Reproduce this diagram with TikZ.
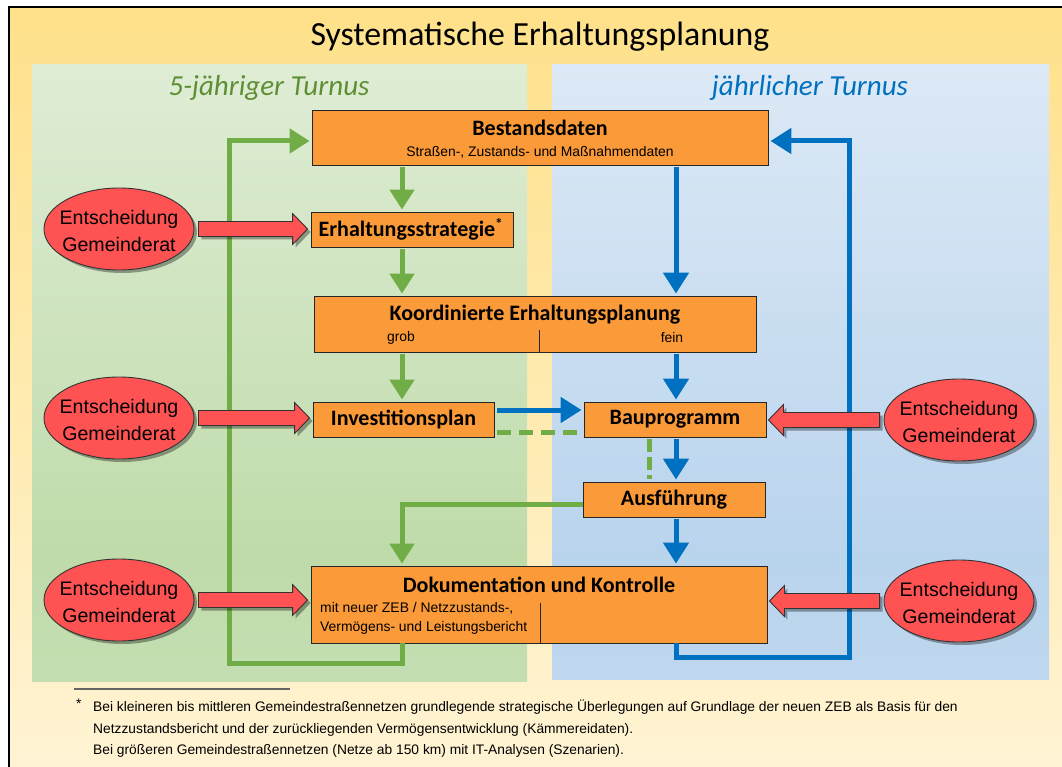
\documentclass[tikz,border=0pt]{standalone}
\usepackage{fontspec}
\setmainfont{Liberation Sans}
\newfontfamily\calfont{Carlito}
\usetikzlibrary{arrows.meta,shadows,calc,shapes.geometric}
\definecolor{frTop}{HTML}{FFE18A}
\definecolor{frBot}{HTML}{FFF4D6}
\definecolor{gpTop}{HTML}{F3F8F0}
\definecolor{gpMid}{HTML}{BFDBAA}
\definecolor{gpBot}{HTML}{D0E6C3}
\definecolor{bpTop}{HTML}{F3F6FB}
\definecolor{bpMid}{HTML}{B9D4ED}
\definecolor{bpBot}{HTML}{CCDFF1}
\definecolor{grn}{HTML}{70AD47}
\definecolor{blu}{HTML}{0070C0}
\definecolor{turnG}{HTML}{5E8F35}
\definecolor{orng}{HTML}{FB9A38}
\definecolor{redE}{HTML}{FF5353}
\pgfdeclareverticalshading{gpanel}{100bp}{color(0bp)=(gpBot); color(35bp)=(gpMid); color(100bp)=(gpTop)}
\pgfdeclareverticalshading{bpanel}{100bp}{color(0bp)=(bpBot); color(35bp)=(bpMid); color(100bp)=(bpTop)}
\newcommand\redblock[2]{\draw[redblk] let \p1=(#1), \p2=(#2), \n1={sign(\x2-\x1)} in
  (\x1,\y1+7.5pt) -- (\x2-\n1*15pt,\y1+7.5pt) -- (\x2-\n1*15pt,\y1+15.5pt) -- (\x2,\y1)
  -- (\x2-\n1*15pt,\y1-15.5pt) -- (\x2-\n1*15pt,\y1-7.5pt) -- (\x1,\y1-7.5pt) -- cycle;}
\begin{document}
\begin{tikzpicture}[x=1pt,y=-1pt,
  box/.style={draw=black!85, fill=orng, line width=0.9pt, inner sep=0pt},
  ttl/.style={font=\calfont\bfseries\fontsize{22}{26}\selectfont, inner sep=0pt},
  sub/.style={font=\fontsize{13.9}{16}\selectfont, inner sep=0pt},
  ell/.style={ellipse, draw=black!80, line width=0.9pt, fill=redE, minimum width=150pt, minimum height=82pt,
    inner sep=0pt,
    drop shadow={shadow xshift=3pt, shadow yshift=-3pt, opacity=0.35, fill=black}},
  elltxt/.style={inner sep=0pt, align=center, font=\fontsize{19.6}{27}\selectfont},
  redblk/.style={draw=black!80, line width=0.9pt, fill=redE,
    drop shadow={shadow xshift=3pt, shadow yshift=-3pt, opacity=0.35, fill=black}},
  garrow/.style={draw=grn, line width=5pt, -{Triangle[length=20pt,width=24pt]}},
  barrow/.style={draw=blu, line width=5pt, -{Triangle[length=21pt,width=25pt]}},
  gdash/.style={draw=grn, line width=5pt, dash pattern=on 14pt off 8pt},
  foot/.style={font=\fontsize{13.8}{16}\selectfont, inner sep=0pt, anchor=west}]
\useasboundingbox (0,0) rectangle (1062,767);
\begin{scope}
\clip (0,0) rectangle (1062,767);
\fill[white] (0,0) rectangle (1062,767);
\shade[top color=frTop, bottom color=frBot] (9,7) rectangle (1080,790);
\draw[line width=2pt] (9,7) rectangle (1080,790);
\end{scope}
\shade[shading=gpanel] (32,65) rectangle (527,681);
\shade[shading=bpanel] (552,65) rectangle (1049,679);
% titles
\node[font=\calfont\fontsize{33.8}{40}\selectfont, inner sep=0pt] (title) at (540,37) {Systematische Erhaltungsplanung};
\node[font=\calfont\itshape\fontsize{29}{34}\selectfont, text=turnG, inner sep=0pt] (tg) at (269,88) {5-jähriger Turnus};
\node[font=\calfont\itshape\fontsize{29}{34}\selectfont, text=blu, inner sep=0pt] (tb) at (810,88) {jährlicher Turnus};
% boxes
\node[box, minimum width=456pt, minimum height=55pt] (B1) at (540,137.5) {};
\node[ttl] (B1t) at (540,128) {Bestandsdaten};
\node[sub] (B1s) at (540,152) {Straßen-, Zustands- und Maßnahmendaten};
\node[box, minimum width=202pt, minimum height=35pt] (B2) at (412,229.5) {};
\node[ttl] (B2t) at (411,229.5) {Erhaltungsstrategie\textsuperscript{*}};
\node[box, minimum width=442pt, minimum height=56pt] (B3) at (535,324) {};
\node[ttl] (B3t) at (535,315) {Koordinierte Erhaltungsplanung};
\node[sub] (B3a) at (401,338) {grob};
\node[sub] (B3b) at (672,338) {fein};
\coordinate (d3) at (539,330);
\draw[line width=0.9pt, black!85] (d3) -- (d3 |- B3.south);
\node[box, minimum width=181pt, minimum height=35pt] (B4) at (403.5,419.5) {};
\node[ttl] (B4t) at (403.5,419.5) {Investitionsplan};
\node[box, minimum width=182pt, minimum height=35pt] (B5) at (675,419.5) {};
\node[ttl] (B5t) at (675,419.5) {Bauprogramm};
\node[box, minimum width=182pt, minimum height=35pt] (B6) at (674,499.5) {};
\node[ttl] (B6t) at (674,499.5) {Ausführung};
\node[box, minimum width=456pt, minimum height=77pt] (B7) at (539,604.5) {};
\node[ttl] (B7t) at (539,585) {Dokumentation und Kontrolle};
\node[sub, anchor=west] (B7a) at (320,608) {mit neuer ZEB / Netzzustands-,};
\node[sub, anchor=west] (B7b) at (320,628) {Vermögens- und Leistungsbericht};
\coordinate (d7) at (540,603);
\draw[line width=0.9pt, black!85] (d7) -- (d7 |- B7.south);
% column/row helpers
\coordinate (gx) at (402,0);
\coordinate (bx) at (676,0);
\coordinate (dx) at (649,0);
\coordinate (hy) at (0,410);
\coordinate (dy) at (0,432);
\coordinate (ay) at (0,504);
\coordinate (ly) at (0,141);
\coordinate (gl) at (229,663);
\coordinate (bl) at (849,657);
% green connectors
\draw[garrow, shorten <=2pt, shorten >=2pt] (B1.south -| gx) -- (B2.north -| gx);
\draw[garrow, shorten <=2pt, shorten >=2pt] (B2.south -| gx) -- (B3.north -| gx);
\draw[garrow, shorten <=2pt, shorten >=2pt] (B3.south -| gx) -- (B4.north -| gx);
\draw[garrow, shorten >=2pt] (B6.west |- ay) -| (B7.north -| gx);
\draw[garrow, shorten >=2pt] (B7.south -| gx) |- (gl) |- (B1.west |- ly);
\draw[gdash] ([xshift=3pt]B4.east |- dy) -- (B5.west |- dy);
\draw[gdash, dash pattern=on 13pt off 5pt] ([yshift=-2pt]B5.south -| dx) -- ([yshift=3pt]B6.north -| dx);
% blue connectors
\draw[barrow, shorten <=2pt, shorten >=2pt] (B1.south -| bx) -- (B3.north -| bx);
\draw[barrow, shorten <=2pt, shorten >=2pt] (B3.south -| bx) -- (B5.north -| bx);
\draw[barrow, shorten <=2pt, shorten >=2pt] (B5.south -| bx) -- (B6.north -| bx);
\draw[barrow, shorten <=2pt, shorten >=2pt] (B6.south -| bx) -- (B7.north -| bx);
\draw[barrow, shorten <=3pt, shorten >=2pt] (B4.east |- hy) -- (B5.west |- hy);
\draw[barrow, shorten >=2pt] (B7.south -| bx) |- (bl) |- (B1.east |- ly);
% decision ellipses
\node[ell] (E1) at (119,229) {};
\node[ell] (E2) at (119,418) {};
\node[ell] (E3) at (119,600) {};
\node[ell] (E4) at (959,420) {};
\node[ell] (E5) at (959,601) {};
\node[elltxt] (E1t) at (119,231) {Entscheidung\\Gemeinderat};
\node[elltxt] (E2t) at (119,420) {Entscheidung\\Gemeinderat};
\node[elltxt] (E3t) at (119,602) {Entscheidung\\Gemeinderat};
\node[elltxt] (E4t) at (959,422) {Entscheidung\\Gemeinderat};
\node[elltxt] (E5t) at (959,603) {Entscheidung\\Gemeinderat};
\redblock{$(E1.east)+(4,0)$}{$(B2.west |- E1)+(-3,0)$}
\redblock{$(E2.east)+(4,0)$}{$(B4.west |- E2)+(-3,0)$}
\redblock{$(E3.east)+(4,0)$}{$(B7.west |- E3)+(-3,0)$}
\redblock{$(E4.west)+(-4,0)$}{$(B5.east |- E4)+(2,0)$}
\redblock{$(E5.west)+(-4,0)$}{$(B7.east |- E5)+(2,0)$}
% footnote
\coordinate (fr) at (74,689);
\draw[line width=1.2pt, black!60] (fr) -- ++(216,0);
\node[foot] (fs) at (76,704) {*};
\node[foot] (f1) at (93,707) {Bei kleineren bis mittleren Gemeindestraßennetzen grundlegende strategische Überlegungen auf Grundlage der neuen ZEB als Basis für den};
\node[foot] (f2) at (93,730) {Netzzustandsbericht und der zurückliegenden Vermögensentwicklung (Kämmereidaten).};
\node[foot] (f3) at (93,751) {Bei größeren Gemeindestraßennetzen (Netze ab 150 km) mit IT-Analysen (Szenarien).};
\end{tikzpicture}
\end{document}
